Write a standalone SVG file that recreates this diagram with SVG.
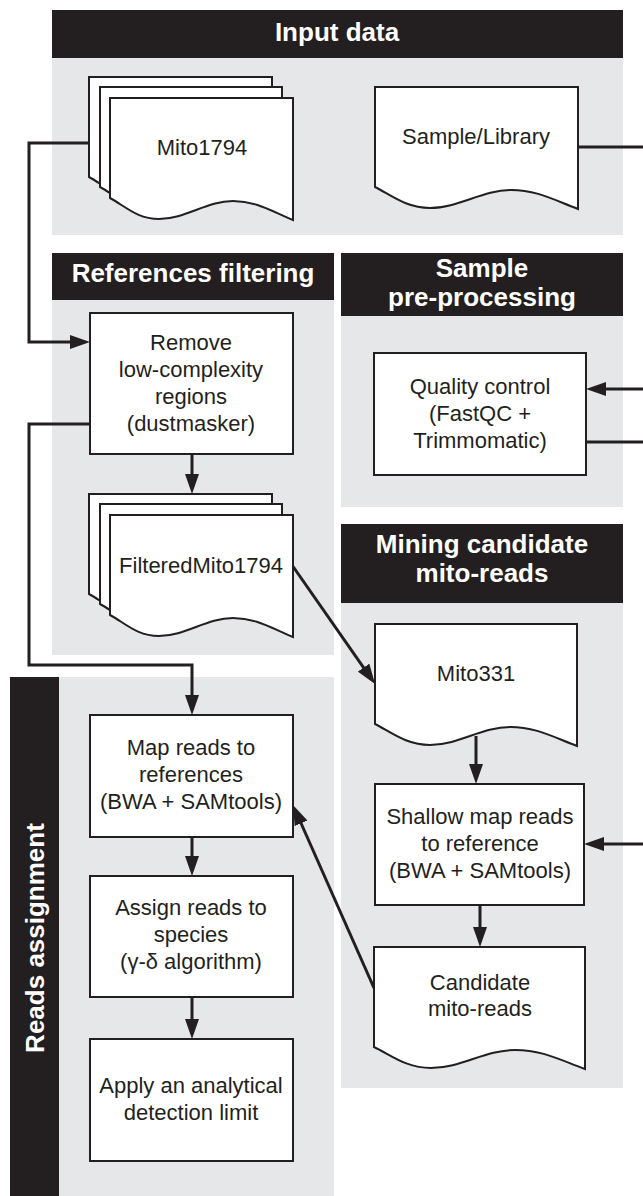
<svg xmlns="http://www.w3.org/2000/svg" width="643" height="1196" viewBox="0 0 643 1196">
<style>
.hdr{fill:#231f20}
.pane{fill:#e6e7e8}
.ht{font-family:"Liberation Sans",Arial,sans-serif;font-weight:bold;font-size:26px;fill:#fff;text-anchor:middle}
.box{fill:#fff;stroke:#231f20;stroke-width:2}
.t{font-family:"Liberation Sans",Arial,sans-serif;font-size:22px;fill:#231f20;text-anchor:middle}
.c{fill:none;stroke:#231f20;stroke-width:3}
</style>
<defs>
<marker id="ah" markerUnits="userSpaceOnUse" markerWidth="20" markerHeight="14" refX="14" refY="7" orient="auto">
<path d="M0,0 L20,7 L0,14 z" fill="#231f20"/>
</marker>
</defs>

<g id="sec-input">
<rect class="hdr" x="52" y="10" width="571" height="48"/>
<rect class="pane" x="52" y="58" width="571" height="177"/>
<text class="ht" x="337" y="41">Input data</text>
</g>
<g id="sec-ref">
<rect class="hdr" x="52" y="253" width="282" height="47"/>
<rect class="pane" x="52" y="300" width="282" height="355"/>
<text class="ht" x="193" y="282">References filtering</text>
</g>
<g id="sec-pre">
<rect class="hdr" x="341" y="253" width="282" height="63"/>
<rect class="pane" x="341" y="316" width="282" height="191"/>
<text class="ht" x="482" y="277">Sample</text>
<text class="ht" x="482" y="306">pre-processing</text>
</g>
<g id="sec-mining">
<rect class="hdr" x="341" y="524" width="282" height="79"/>
<rect class="pane" x="341" y="603" width="282" height="485"/>
<text class="ht" x="482" y="553">Mining candidate</text>
<text class="ht" x="482" y="582">mito-reads</text>
</g>
<g id="sec-assign">
<rect class="hdr" x="10" y="677" width="49" height="519"/>
<rect class="pane" x="59" y="677" width="275" height="519"/>
<text class="ht" transform="translate(44,938) rotate(-90)">Reads assignment</text>
</g>

<g id="connectors">
<path class="c" d="M89,143 H29 V342 H84" marker-end="url(#ah)"/>
<path class="c" d="M90,424 H29 V665 H192 V709" marker-end="url(#ah)"/>
<path class="c" d="M192,454 V488" marker-end="url(#ah)"/>
<path class="c" d="M578,147 H643"/>
<path class="c" d="M643,389 H592" marker-end="url(#ah)"/>
<path class="c" d="M586,442 H643"/>
<path class="c" d="M292,565 L371.6,679.1" marker-end="url(#ah)"/>
<path class="c" d="M476,736 V778" marker-end="url(#ah)"/>
<path class="c" d="M643,844 H590" marker-end="url(#ah)"/>
<path class="c" d="M480,905 V941" marker-end="url(#ah)"/>
<path class="c" d="M374,988 L295.4,810.5" marker-end="url(#ah)"/>
<path class="c" d="M192,837 V870" marker-end="url(#ah)"/>
<path class="c" d="M192,997 V1033" marker-end="url(#ah)"/>
</g>

<g id="mito1794">
<path class="box" d="M89,77 H272 V199 C250,190 235,180 212,180 C186,180 164,198 138,198 C116,198 104,185 89,177 Z"/>
<path class="box" d="M100,87 H282 V209 C260,200 245,190 222,190 C196,190 175,208 149,208 C127,208 115,195 100,187 Z"/>
<path class="box" d="M110,98 H293 V220 C271,211 256,201 233,201 C207,201 185,219 159,219 C137,219 125,206 110,198 Z"/>
<text class="t" x="202" y="155">Mito1794</text>
</g>
<g id="sample-library">
<path class="box" d="M375,87 H578 V209 C554,200 537,190 511,190 C483,190 458,208 430,208 C406,208 391,195 375,187 Z"/>
<text class="t" x="476" y="144">Sample/Library</text>
</g>
<g id="remove">
<rect class="box" x="90" y="313" width="203" height="141"/>
<text class="t" x="191" y="350">Remove</text>
<text class="t" x="191" y="377">low-complexity</text>
<text class="t" x="191" y="404">regions</text>
<text class="t" x="191" y="431">(dustmasker)</text>
</g>
<g id="filtered">
<path class="box" d="M89,494 H272 V616 C250,607 235,597 212,597 C186,597 164,615 138,615 C116,615 104,602 89,594 Z"/>
<path class="box" d="M100,504 H282 V626 C260,617 245,607 222,607 C196,607 175,625 149,625 C127,625 115,612 100,604 Z"/>
<path class="box" d="M110,515 H293 V637 C271,628 256,618 233,618 C207,618 185,636 159,636 C137,636 125,623 110,615 Z"/>
<text class="t" x="201" y="573">FilteredMito1794</text>
</g>
<g id="qc">
<rect class="box" x="374" y="353" width="212" height="122"/>
<text class="t" x="480" y="394">Quality control</text>
<text class="t" x="480" y="421">(FastQC +</text>
<text class="t" x="480" y="448">Trimmomatic)</text>
</g>
<g id="mito331">
<path class="box" d="M375,624 H577 V746 C553,737 536,727 510,727 C482,727 458,745 430,745 C406,745 391,732 375,724 Z"/>
<text class="t" x="476" y="681">Mito331</text>
</g>
<g id="shallow">
<rect class="box" x="375" y="784" width="209" height="121"/>
<text class="t" x="480" y="824">Shallow map reads</text>
<text class="t" x="480" y="851">to reference</text>
<text class="t" x="480" y="878">(BWA + SAMtools)</text>
</g>
<g id="candidate">
<path class="box" d="M374,947 H585 V1069 C560,1060 543,1050 515,1050 C485,1050 461,1068 431,1068 C406,1068 391,1055 374,1047 Z"/>
<text class="t" x="480" y="990">Candidate</text>
<text class="t" x="480" y="1016">mito-reads</text>
</g>
<g id="map">
<rect class="box" x="90" y="715" width="203" height="122"/>
<text class="t" x="191" y="755">Map reads to</text>
<text class="t" x="191" y="782">references</text>
<text class="t" x="191" y="809">(BWA + SAMtools)</text>
</g>
<g id="assign">
<rect class="box" x="90" y="876" width="203" height="121"/>
<text class="t" x="191" y="915">Assign reads to</text>
<text class="t" x="191" y="942">species</text>
<text class="t" x="191" y="969">(γ-δ algorithm)</text>
</g>
<g id="apply">
<rect class="box" x="90" y="1039" width="203" height="122"/>
<text class="t" x="191" y="1093">Apply an analytical</text>
<text class="t" x="191" y="1120">detection limit</text>
</g>
</svg>
